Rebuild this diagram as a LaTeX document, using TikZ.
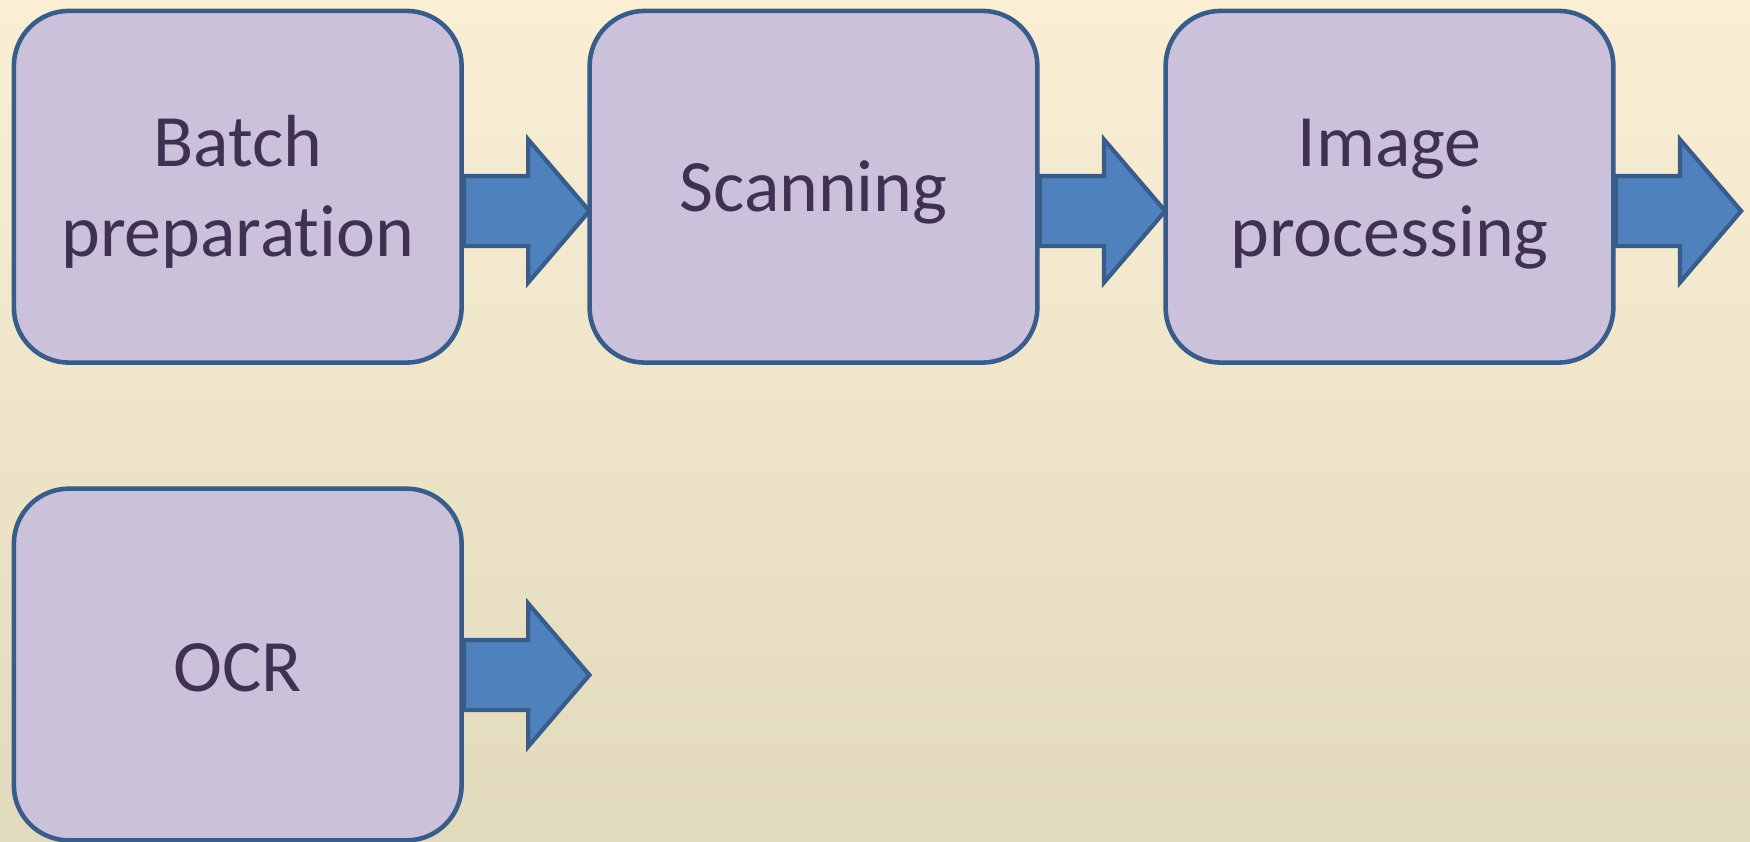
\documentclass[tikz,border=0pt]{standalone}
\usepackage{fontspec}
\setmainfont{Carlito}[Ligatures={NoCommon}]
\usetikzlibrary{calc}
\definecolor{bgtop}{RGB}{250,239,213}
\definecolor{bgmid}{RGB}{244,236,214}
\definecolor{bgbot}{RGB}{226,218,188}
\definecolor{boxfill}{RGB}{204,193,218}
\definecolor{edgeblue}{RGB}{56,93,138}
\definecolor{arrowfill}{RGB}{79,129,189}
\definecolor{txt}{RGB}{63,49,81}
\tikzset{
  stepbox/.style={draw=edgeblue, line width=1.3pt, fill=boxfill, rectangle,
    rounded corners=0.55cm, minimum width=4.475cm, minimum height=3.515cm, inner sep=0pt},
  lbl/.style={text=txt, font=\fontsize{21}{25.6}\selectfont, inner sep=0pt, anchor=base},
  blockarrow/.style={draw=edgeblue, line width=1.2pt, fill=arrowfill, line join=miter}
}
\begin{document}
\begin{tikzpicture}[x=0.01cm, y=-0.01cm]
\useasboundingbox (0,0) rectangle (1750,842);
\shade[top color=bgtop, middle color=bgmid, bottom color=bgbot] (0,0) rectangle (1750,842);

\node[stepbox] (b1) at (237.75,186.75) {};
\node[stepbox] (b2) at (813.5,186.75) {};
\node[stepbox] (b3) at (1389.5,186.75) {};
\node[stepbox] (b4) at (237.75,664.5) {};

% arrows
\draw[blockarrow, shift={($(b1.east)+(0,24.25)$)}]
  (0,-35) -- (64.3,-35) -- (64.3,-71.5) -- (125.5,0) -- (64.3,71.5) -- (64.3,35) -- (0,35) -- cycle;
\draw[blockarrow, shift={($(b2.east)+(0,24.25)$)}]
  (0,-35) -- (64.3,-35) -- (64.3,-71.5) -- (125.5,0) -- (64.3,71.5) -- (64.3,35) -- (0,35) -- cycle;
\draw[blockarrow, shift={($(b3.east)+(0,24.25)$)}]
  (0,-35) -- (64.3,-35) -- (64.3,-71.5) -- (125.5,0) -- (64.3,71.5) -- (64.3,35) -- (0,35) -- cycle;
\draw[blockarrow, shift={($(b4.east)+(0,10.5)$)}]
  (0,-35) -- (64.3,-35) -- (64.3,-71.5) -- (125.5,0) -- (64.3,71.5) -- (64.3,35) -- (0,35) -- cycle;

% labels
\node[lbl] (t1a) at (237.75,166.7) {Batch};
\node[lbl] (t1b) at (237.75,256.7) {preparation};
\node[lbl] (t2) at (813.5,211.7) {Scanning};
\node[lbl] (t3a) at (1389.5,166.7) {Image};
\node[lbl] (t3b) at (1389.5,256.7) {processing};
\node[lbl] (t4) at (237.75,691.7) {OCR};
\end{tikzpicture}
\end{document}
